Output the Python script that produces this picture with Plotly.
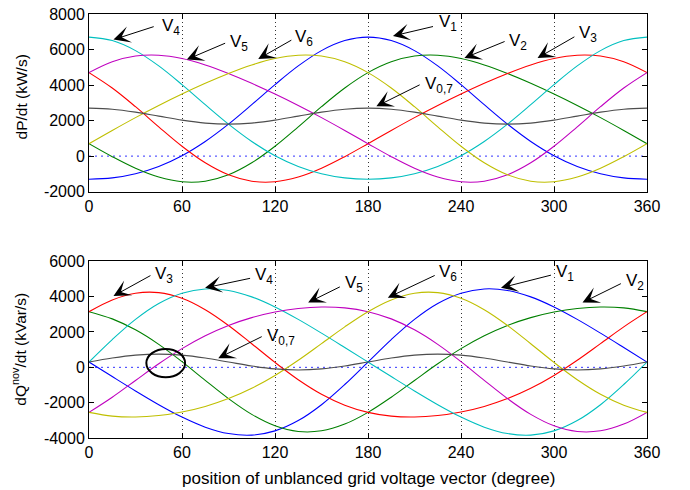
import plotly.graph_objects as go

# ---------------- data ----------------
theta = [0, 15, 30, 45, 60, 75, 90, 105, 120, 135, 150, 165, 180,
         195, 210, 225, 240, 255, 270, 285, 300, 315, 330, 345, 360]

# top panel: dP/dt (kW/s)
p_v1 = [-1300, -1224, -989, -578, 25, 825, 1800, 2895, 4025, 5078, 5939, 6504, 6700,
        6504, 5939, 5078, 4025, 2895, 1800, 825, 25, -578, -989, -1224, -1300]
p_v2 = [700, -30, -682, -1179, -1443, -1411, -1050, -375, 557, 1649, 2782, 3834, 4700,
        5310, 5632, 5679, 5493, 5131, 4650, 4095, 3493, 2851, 2168, 1446, 700]
p_v3 = [4700, 3834, 2782, 1649, 557, -375, -1050, -1411, -1443, -1179, -682, -30, 700,
        1446, 2168, 2851, 3493, 4095, 4650, 5131, 5493, 5679, 5632, 5310, 4700]
p_v4 = [6700, 6504, 5939, 5078, 4025, 2895, 1800, 825, 25, -578, -989, -1224, -1300,
        -1224, -989, -578, 25, 825, 1800, 2895, 4025, 5078, 5939, 6504, 6700]
p_v5 = [4700, 5310, 5632, 5679, 5493, 5131, 4650, 4095, 3493, 2851, 2168, 1446, 700,
        -30, -682, -1179, -1443, -1411, -1050, -375, 557, 1649, 2782, 3834, 4700]
p_v6 = [700, 1446, 2168, 2851, 3493, 4095, 4650, 5131, 5493, 5679, 5632, 5310, 4700,
        3834, 2782, 1649, 557, -375, -1050, -1411, -1443, -1179, -682, -30, 700]
p_v07 = [2700, 2640, 2475, 2250, 2025, 1860, 1800, 1860, 2025, 2250, 2475, 2640, 2700,
         2640, 2475, 2250, 2025, 1860, 1800, 1860, 2025, 2250, 2475, 2640, 2700]

# bottom panel: dQ^nov/dt (kVar/s)
q_v1 = [300, -523, -1335, -2114, -2817, -3387, -3750, -3837, -3597, -3014, -2115, -973, 300,
        1573, 2715, 3614, 4197, 4437, 4350, 3987, 3417, 2714, 1935, 1123, 300]
q_v2 = [3150, 2742, 2123, 1301, 322, -736, -1770, -2662, -3308, -3629, -3593, -3214, -2550,
        -1692, -743, 199, 1058, 1786, 2370, 2812, 3128, 3329, 3413, 3364, 3150]
q_v3 = [3150, 3814, 4193, 4229, 3908, 3262, 2370, 1336, 278, -701, -1523, -2142, -2550,
        -2764, -2813, -2729, -2528, -2212, -1770, -1186, -458, 401, 1343, 2292, 3150]
q_v4 = [300, 1573, 2715, 3614, 4197, 4437, 4350, 3987, 3417, 2714, 1935, 1123, 300,
        -523, -1335, -2114, -2817, -3387, -3750, -3837, -3597, -3014, -2115, -973, 300]
q_v5 = [-2550, -1692, -743, 199, 1058, 1786, 2370, 2812, 3128, 3329, 3413, 3364, 3150,
        2742, 2123, 1301, 322, -736, -1770, -2662, -3308, -3629, -3593, -3214, -2550]
q_v6 = [-2550, -2764, -2813, -2729, -2528, -2212, -1770, -1186, -458, 401, 1343, 2292, 3150,
        3814, 4193, 4229, 3908, 3262, 2370, 1336, 278, -701, -1523, -2142, -2550]
q_v07 = [300, 525, 690, 750, 690, 525, 300, 75, -90, -150, -90, 75, 300,
         525, 690, 750, 690, 525, 300, 75, -90, -150, -90, 75, 300]

x_ticks = [0, 60, 120, 180, 240, 300, 360]
p_ticks = [-2000, 0, 2000, 4000, 6000, 8000]
q_ticks = [-4000, -2000, 0, 2000, 4000, 6000]

series_names = ["V1", "V2", "V3", "V4", "V5", "V6", "V0,7"]
colors = ["#0000ff", "#008000", "#ff0000", "#00bfbf", "#bf00bf", "#bfbf00", "#4d4d4d"]
p_series = [p_v1, p_v2, p_v3, p_v4, p_v5, p_v6, p_v07]
q_series = [q_v1, q_v2, q_v3, q_v4, q_v5, q_v6, q_v07]

FONT = "Liberation Sans, Arial, Helvetica, sans-serif"

fig = go.Figure()

# zero reference lines (blue dotted)
for xa, ya in (("x", "y"), ("x2", "y2")):
    fig.add_trace(go.Scatter(x=[0, 360], y=[0, 0], mode="lines", xaxis=xa, yaxis=ya,
                             line=dict(color="#3333ff", width=1, dash="2px,4px"),
                             showlegend=False, hoverinfo="skip"))

for name, col, ys in zip(series_names, colors, p_series):
    fig.add_trace(go.Scatter(x=theta, y=ys, mode="lines", name=name, xaxis="x", yaxis="y",
                             line=dict(color=col, width=1.1, shape="spline", smoothing=1),
                             showlegend=False, hoverinfo="skip"))
for name, col, ys in zip(series_names, colors, q_series):
    fig.add_trace(go.Scatter(x=theta, y=ys, mode="lines", name=name, xaxis="x2", yaxis="y2",
                             line=dict(color=col, width=1.1, shape="spline", smoothing=1),
                             showlegend=False, hoverinfo="skip"))

axis_common = dict(showline=True, linecolor="black", linewidth=1, mirror="ticks",
                   ticks="inside", ticklen=5, tickcolor="black", zeroline=False,
                   tickfont=dict(family=FONT, size=16, color="black"))

fig.update_layout(
    width=690, height=490,
    margin=dict(l=89, r=43, t=6, b=52),
    paper_bgcolor="white", plot_bgcolor="white",
    font=dict(family=FONT, color="black"),
    xaxis=dict(domain=[0, 1], anchor="y", range=[0, 360], tickvals=x_ticks,
               ticktext=[str(v) for v in x_ticks],
               showgrid=True, gridcolor="#333333", griddash="1px,3px", gridwidth=1,
               **axis_common),
    yaxis=dict(domain=[0.581, 1], anchor="x", range=[-2000, 8000], tickvals=p_ticks,
               ticktext=[str(v) for v in p_ticks], showgrid=False, **axis_common),
    xaxis2=dict(domain=[0, 1], anchor="y2", range=[0, 360], tickvals=x_ticks,
                ticktext=[str(v) for v in x_ticks],
                showgrid=True, gridcolor="#333333", griddash="1px,3px", gridwidth=1,
                **axis_common),
    yaxis2=dict(domain=[0, 0.4167], anchor="x2", range=[-4000, 6000], tickvals=q_ticks,
                ticktext=[str(v) for v in q_ticks], showgrid=False, **axis_common),
)

# ellipse highlight on the lower panel
fig.add_shape(type="circle", xref="x2", yref="y2", x0=37, x1=62, y0=-560, y1=1040,
              line=dict(color="black", width=2))

annotations = []
# arrows: (xref, yref, tip_x, tip_y, tail_x, tail_y)
arrows = [
    ("x", "y", 15.8, 6558, 42.7, 7315),
    ("x", "y", 63.1, 5437, 88.8, 6392),
    ("x", "y", 109.2, 5470, 131.5, 6575),
    ("x", "y", 196.1, 6763, 222.9, 7315),
    ("x", "y", 242.2, 5525, 269.1, 6486),
    ("x", "y", 289.4, 5525, 314.1, 6763),
    ("x", "y", 185.4, 2801, 214.3, 4055),
    ("x2", "y2", 15.8, 4039, 40.6, 5239),
    ("x2", "y2", 74.9, 4500, 104.9, 5056),
    ("x2", "y2", 141.4, 3667, 162.8, 4595),
    ("x2", "y2", 83.4, 517, 112.4, 1778),
    ("x2", "y2", 192.8, 3945, 224.0, 5239),
    ("x2", "y2", 265.8, 4500, 299.0, 5239),
    ("x2", "y2", 318.4, 3667, 344.1, 4778),
]
for xr, yr, tx, ty, sx, sy in arrows:
    annotations.append(dict(xref=xr, yref=yr, x=tx, y=ty, axref=xr, ayref=yr, ax=sx, ay=sy,
                            text="", showarrow=True, arrowhead=3, arrowsize=2.8,
                            arrowwidth=1, arrowcolor="black", standoff=0, startstandoff=0))

labels = [
    ("x", "y", 45.9, 7442, "4"),
    ("x", "y", 89.7, 6531, "5"),
    ("x", "y", 131.5, 6807, "6"),
    ("x", "y", 224.2, 7636, "1"),
    ("x", "y", 269.9, 6613, "2"),
    ("x", "y", 315.0, 7017, "3"),
    ("x", "y", 215.2, 4182, "0,7"),
    ("x2", "y2", 41.4, 5417, "3"),
    ("x2", "y2", 105.8, 5334, "4"),
    ("x2", "y2", 163.7, 4861, "5"),
    ("x2", "y2", 113.5, 1889, "0,7"),
    ("x2", "y2", 224.8, 5500, "6"),
    ("x2", "y2", 300.2, 5500, "1"),
    ("x2", "y2", 345.3, 5000, "2"),
]
for xr, yr, lx, ly, sub in labels:
    annotations.append(dict(xref=xr, yref=yr, x=lx, y=ly, text="V<sub>%s</sub>" % sub,
                            showarrow=False, xanchor="left", yanchor="middle", yshift=-3,
                            font=dict(family=FONT, size=17, color="black")))

# axis titles
annotations.append(dict(xref="paper", yref="paper", x=(21 - 89) / 558, y=(438 - 91) / 432,
                        text="dP/dt (kW/s)", showarrow=False, textangle=-90,
                        xanchor="center", yanchor="middle",
                        font=dict(family=FONT, size=15.5, color="black")))
annotations.append(dict(xref="paper", yref="paper", x=(19 - 89) / 558, y=(438 - 348) / 432,
                        text="dQ<sup>nov</sup>/dt (kVar/s)", showarrow=False, textangle=-90,
                        xanchor="center", yanchor="middle",
                        font=dict(family=FONT, size=15.5, color="black")))
annotations.append(dict(xref="paper", yref="paper", x=0.5, y=(438 - 479) / 432,
                        text="position of unblanced grid voltage vector (degree)",
                        showarrow=False, xanchor="center", yanchor="middle",
                        font=dict(family=FONT, size=17, color="black")))

fig.update_layout(annotations=annotations)

fig.write_html("out.html")
